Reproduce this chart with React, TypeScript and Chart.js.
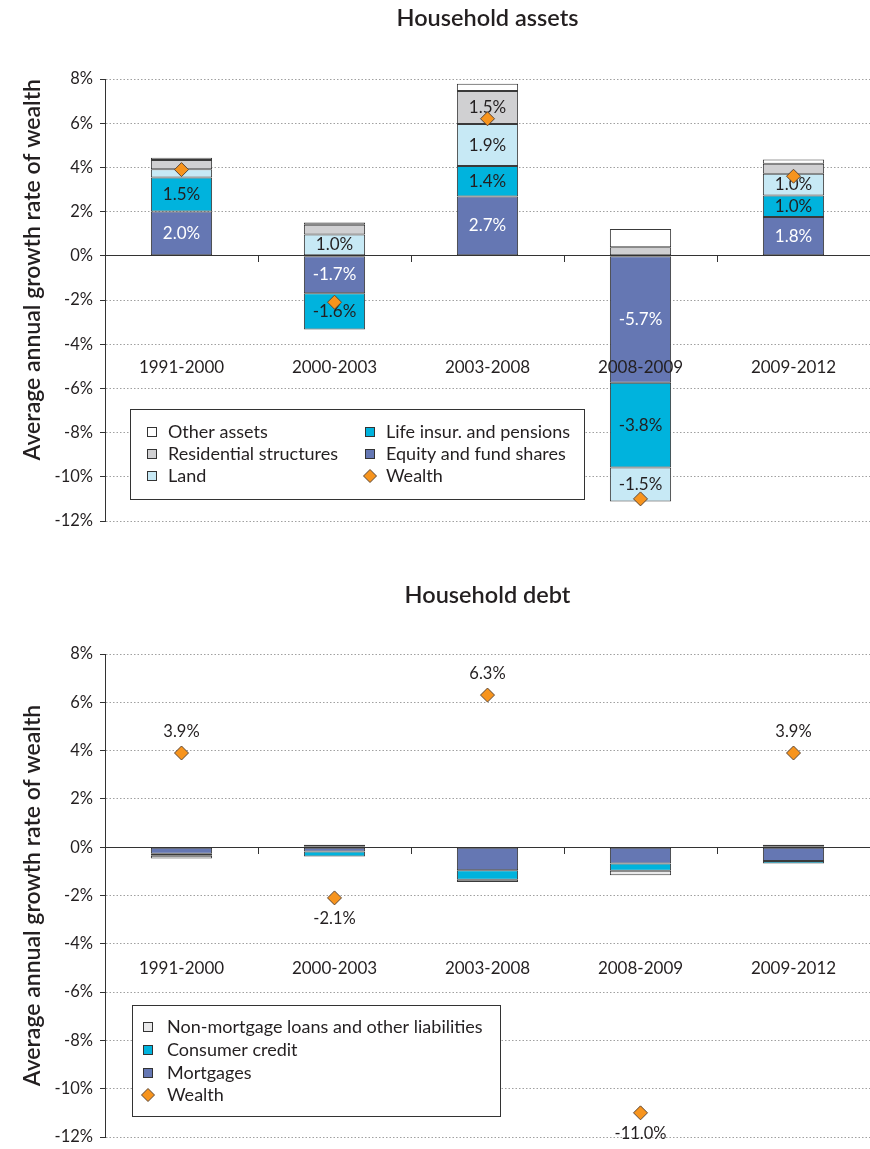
import React, { useEffect, useRef } from 'react';
import { Chart, registerables } from 'chart.js';

Chart.register(...registerables);

const FONT = 'Lato, "Noto Sans", "DejaVu Sans", sans-serif';
const TEXT = '#231f20';
const CANVAS_W = 878; // 8px extra on the right is clipped (line-point overflow padding)

// ---------- data ----------
const categories = ['1991-2000', '2000-2003', '2003-2008', '2008-2009', '2009-2012'];

// Household assets (contributions, % per year)
const equity = [2.0, -1.7, 2.68, -5.74, 1.76];
const lifeInsurance = [1.54, -1.63, 1.38, -3.84, 0.97];
const land = [0.38, 0.96, 1.9, -1.54, 0.98];
const residential = [0.41, 0.45, 1.5, 0.39, 0.45];
const otherAssets = [0.11, 0.1, 0.33, 0.82, 0.2];
const wealthAssetsPanel = [3.9, -2.1, 6.2, -11.0, 3.6];

// Household debt (contributions, % per year)
const mortgages = [-0.27, -0.18, -0.95, -0.67, -0.57];
const consumerCredit = [-0.08, -0.2, -0.4, -0.3, -0.11];
const nonMortgage = [-0.12, 0.1, -0.09, -0.19, 0.1];
const wealth = [3.9, -2.1, 6.3, -11.0, 3.9];

const yMin = -12;
const yMax = 8;
const yStep = 2;

const COLORS = {
  other: '#ffffff',
  residential: '#d0d0d2',
  land: '#c7e9f5',
  life: '#00b3dd',
  equity: '#6577b3',
  wealth: '#f7941d',
  nonMortgage: '#e9e9ea',
  consumer: '#00b3dd',
  mortgage: '#6577b3',
  border: '#3a3a3a',
};

function barDataset(label: string, data: number[], color: string) {
  return {
    type: 'bar' as const,
    label,
    data,
    backgroundColor: color,
    borderColor: COLORS.border,
    borderWidth: 1,
    borderSkipped: false,
    barPercentage: 0.4,
    categoryPercentage: 1,
    order: 1,
    stack: 's',
  };
}

function wealthDataset(data: number[]) {
  return {
    type: 'line' as const,
    label: 'Wealth',
    data,
    showLine: false,
    pointStyle: 'rectRot',
    pointRadius: 7,
    pointHoverRadius: 7,
    pointBackgroundColor: COLORS.wealth,
    pointBorderColor: '#5b4636',
    pointBorderWidth: 1,
    backgroundColor: COLORS.wealth,
    borderColor: '#5b4636',
    order: 0,
    stack: 'w',
  };
}

function xScale(labelPadding: number) {
  return {
    type: 'category',
    position: { y: 0 },
    stacked: true,
    offset: true,
    afterFit: (s: any) => {
      s.paddingLeft = 0;
      s.paddingRight = 0;
    },
    grid: {
      display: true,
      drawOnChartArea: false,
      drawTicks: true,
      tickLength: 6,
      color: '#333',
      tickColor: '#333',
      offset: true,
    },
    border: { display: true, color: '#333', width: 1, z: 1 },
    ticks: {
      z: 1,
      padding: labelPadding,
      color: TEXT,
      font: { family: FONT, size: 17 },
      maxRotation: 0,
      autoSkip: false,
    },
  };
}

function yScale(titleAlign: string) {
  return {
    type: 'linear',
    position: 'left',
    stacked: true,
    min: yMin,
    max: yMax,
    afterFit: (s: any) => {
      s.width = 105;
      s.paddingTop = 0;
      s.paddingBottom = 0;
    },
    ticks: {
      stepSize: yStep,
      padding: 7,
      color: TEXT,
      font: { family: FONT, size: 16.5 },
      callback: (v: any) => `${v}%`,
    },
    grid: {
      color: '#a0a0a0',
      lineWidth: 1,
      tickLength: 5,
      tickColor: '#333',
      tickBorderDash: [],
      drawTicks: true,
    },
    border: { display: true, color: '#333', width: 1, dash: [1.5, 2] },
    title: {
      display: true,
      text: 'Average annual growth rate of wealth',
      align: titleAlign,
      color: TEXT,
      font: { family: FONT, size: 23, weight: '600' },
      padding: { top: 19, bottom: 0 },
    },
  };
}

function makeBarLabelPlugin(labelColors: string[], threshold: number) {
  return {
    id: 'barValueLabels',
    afterDatasetDraw(chart: any, args: any) {
      const i = args.index;
      const ds = chart.data.datasets[i];
      if (ds.type !== 'bar') return;
      const ctx = chart.ctx;
      ctx.save();
      ctx.font = `17px ${FONT}`;
      ctx.textAlign = 'center';
      ctx.textBaseline = 'middle';
      ctx.fillStyle = labelColors[i];
      args.meta.data.forEach((el: any, j: number) => {
        const v = ds.data[j];
        if (Math.abs(v) < threshold) return;
        ctx.fillText(`${v.toFixed(1)}%`, el.x, (el.y + el.base) / 2);
      });
      ctx.restore();
    },
  };
}

function makeWealthLabelPlugin(datasetIndex: number, offset: number) {
  return {
    id: 'wealthLabels',
    afterDatasetsDraw(chart: any) {
      const meta = chart.getDatasetMeta(datasetIndex);
      const ds = chart.data.datasets[datasetIndex];
      const ctx = chart.ctx;
      ctx.save();
      ctx.font = `16.5px ${FONT}`;
      ctx.textAlign = 'center';
      ctx.textBaseline = 'middle';
      ctx.fillStyle = TEXT;
      meta.data.forEach((pt: any, j: number) => {
        const v = ds.data[j];
        const y = v >= 0 ? pt.y - offset : pt.y + offset;
        ctx.fillText(`${v.toFixed(1)}%`, pt.x, y);
      });
      ctx.restore();
    },
  };
}

type LegendItem = { ds: number; x: number; y: number };
type LegendSpec = {
  box: { x: number; y: number; w: number; h: number };
  textGap: number;
  items: LegendItem[];
};

function makeBoxLegendPlugin(spec: LegendSpec) {
  return {
    id: 'boxLegend',
    afterDraw(chart: any) {
      const ca = chart.chartArea;
      const ctx = chart.ctx;
      ctx.save();
      const bx = Math.round(ca.left + spec.box.x) + 0.5;
      const by = Math.round(ca.top + spec.box.y) + 0.5;
      ctx.fillStyle = '#ffffff';
      ctx.fillRect(bx, by, spec.box.w, spec.box.h);
      ctx.strokeStyle = '#333';
      ctx.lineWidth = 1;
      ctx.strokeRect(bx, by, spec.box.w, spec.box.h);
      ctx.font = `18px ${FONT}`;
      ctx.textBaseline = 'middle';
      ctx.textAlign = 'left';
      spec.items.forEach((it) => {
        const ds = chart.data.datasets[it.ds];
        const mx = Math.round(ca.left + it.x);
        const my = Math.round(ca.top + it.y);
        if (ds.type === 'line') {
          const r = 6.5;
          ctx.beginPath();
          ctx.moveTo(mx, my - r);
          ctx.lineTo(mx + r, my);
          ctx.lineTo(mx, my + r);
          ctx.lineTo(mx - r, my);
          ctx.closePath();
          ctx.fillStyle = COLORS.wealth;
          ctx.fill();
          ctx.strokeStyle = '#5b4636';
          ctx.stroke();
        } else {
          ctx.fillStyle = ds.backgroundColor;
          ctx.fillRect(mx - 4.5, my - 4.5, 9, 9);
          ctx.strokeStyle = '#333';
          ctx.strokeRect(mx - 4.5, my - 4.5, 9, 9);
        }
        ctx.fillStyle = TEXT;
        ctx.fillText(ds.label, ca.left + it.x + spec.textGap, my);
      });
      ctx.restore();
    },
  };
}

function buildAssets(): any {
  const datasets = [
    barDataset('Equity and fund shares', equity, COLORS.equity),
    barDataset('Life insur. and pensions', lifeInsurance, COLORS.life),
    barDataset('Land', land, COLORS.land),
    barDataset('Residential structures', residential, COLORS.residential),
    barDataset('Other assets', otherAssets, COLORS.other),
    wealthDataset(wealthAssetsPanel),
  ];
  const legend: LegendSpec = {
    box: { x: 25, y: 330, w: 454, h: 90 },
    textGap: 16,
    items: [
      { ds: 4, x: 47, y: 353 },
      { ds: 3, x: 47, y: 375 },
      { ds: 2, x: 47, y: 397 },
      { ds: 1, x: 265, y: 353 },
      { ds: 0, x: 265, y: 375 },
      { ds: 5, x: 265, y: 397 },
    ],
  };
  return {
    type: 'bar',
    data: { labels: categories, datasets },
    options: {
      responsive: false,
      animation: false,
      layout: { padding: { top: 0, right: 0, bottom: 24, left: 0 } },
      plugins: {
        legend: { display: false },
        tooltip: { enabled: false },
        title: {
          display: true,
          text: 'Household assets',
          fullSize: false,
          color: TEXT,
          font: { family: FONT, size: 23.5, weight: '600' },
          padding: { top: 4, bottom: 46.8 },
        },
      },
      scales: { x: xScale(96), y: yScale('end') },
    },
    plugins: [
      makeBarLabelPlugin(['#ffffff', TEXT, TEXT, TEXT, TEXT], 0.9),
      makeBoxLegendPlugin(legend),
    ],
  };
}

function buildDebt(): any {
  const datasets = [
    barDataset('Mortgages', mortgages, COLORS.mortgage),
    barDataset('Consumer credit', consumerCredit, COLORS.consumer),
    barDataset('Non-mortgage loans and other liabilities', nonMortgage, COLORS.nonMortgage),
    wealthDataset(wealth),
  ];
  const legend: LegendSpec = {
    box: { x: 27, y: 351, w: 368, h: 111 },
    textGap: 19,
    items: [
      { ds: 2, x: 43, y: 373 },
      { ds: 1, x: 43, y: 396 },
      { ds: 0, x: 43, y: 419 },
      { ds: 3, x: 43, y: 441 },
    ],
  };
  return {
    type: 'bar',
    data: { labels: categories, datasets },
    options: {
      responsive: false,
      animation: false,
      layout: { padding: { top: 0, right: 0, bottom: 12, left: 0 } },
      plugins: {
        legend: { display: false },
        tooltip: { enabled: false },
        title: {
          display: true,
          text: 'Household debt',
          fullSize: false,
          color: TEXT,
          font: { family: FONT, size: 23.5, weight: '600' },
          padding: { top: 21, bottom: 44.8 },
        },
      },
      scales: { x: xScale(105), y: yScale('center') },
    },
    plugins: [makeWealthLabelPlugin(3, 21), makeBoxLegendPlugin(legend)],
  };
}

function ChartBox({ top, height, build }: { top: number; height: number; build: () => any }) {
  const ref = useRef<HTMLCanvasElement>(null);
  useEffect(() => {
    const chart = new Chart(ref.current as HTMLCanvasElement, build());
    return () => chart.destroy();
  }, []);
  return (
    <div style={{ position: 'absolute', left: 0, top, width: 870, height, overflow: 'hidden' }}>
      <canvas
        ref={ref}
        width={CANVAS_W}
        height={height}
        style={{ width: CANVAS_W, height, display: 'block' }}
      />
    </div>
  );
}

export default function App() {
  return (
    <div
      style={{
        position: 'absolute',
        left: 0,
        top: 0,
        width: 870,
        height: 1149,
        overflow: 'hidden',
        background: '#ffffff',
      }}
    >
      <ChartBox top={0} height={545} build={buildAssets} />
      <ChartBox top={560} height={589} build={buildDebt} />
    </div>
  );
}
